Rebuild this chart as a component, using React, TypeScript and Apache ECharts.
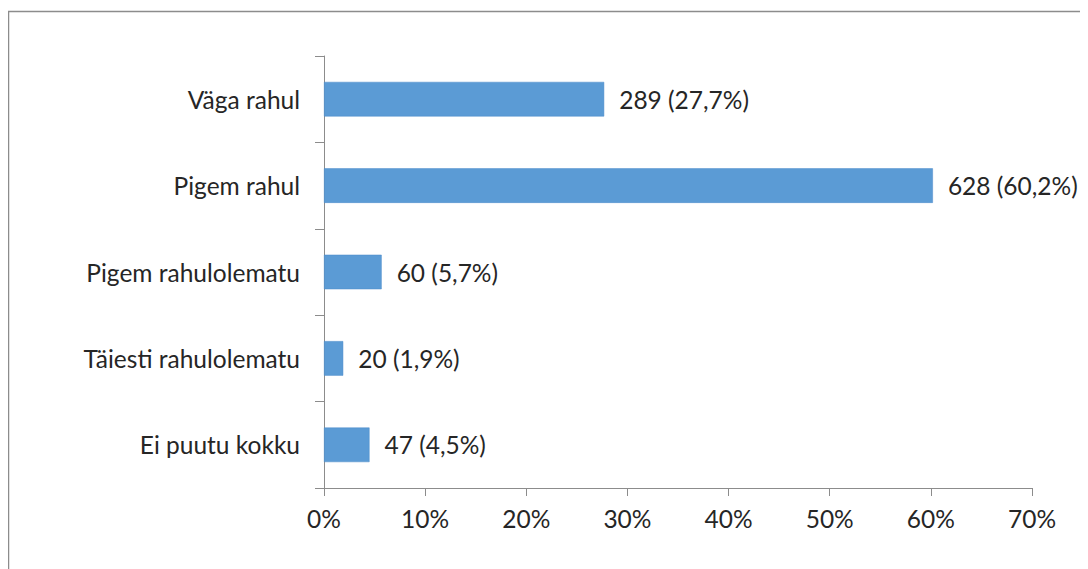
import React, { useEffect, useRef } from "react";
import * as echarts from "echarts";

const categories = ["Väga rahul", "Pigem rahul", "Pigem rahulolematu", "Täiesti rahulolematu", "Ei puutu kokku"];
const counts = [289, 628, 60, 20, 47];
const percents = [27.7, 60.2, 5.7, 1.9, 4.5];
const xTicks = [0, 10, 20, 30, 40, 50, 60, 70];

export default function App() {
  const ref = useRef<HTMLDivElement>(null);
  useEffect(() => {
    if (!ref.current) return;
    const chart = echarts.init(ref.current, null, { renderer: "svg" });
    const font = "Lato, 'Open Sans', sans-serif";
    const fs = 24.5;
    chart.setOption({
      animation: false,
      textStyle: { fontFamily: font },
      graphic: [
        {
          type: "rect",
          shape: { x: 0.5, y: 3.5, width: 1200, height: 700 },
          style: { fill: "none", stroke: "#8c8c8c", lineWidth: 1.5 },
          silent: true,
        },
      ],
      grid: { left: 316, top: 48, width: 708, height: 432, containLabel: false },
      xAxis: {
        type: "value",
        min: xTicks[0],
        max: xTicks[xTicks.length - 1],
        interval: 10,
        axisLine: { show: true, lineStyle: { color: "#8c8c8c", width: 1 } },
        axisTick: { show: true, length: 8, lineStyle: { color: "#8c8c8c" } },
        splitLine: { show: false },
        axisLabel: { formatter: "{value}%", color: "#262626", fontSize: fs, margin: 18, fontFamily: font },
      },
      yAxis: {
        type: "category",
        data: categories,
        inverse: true,
        axisLine: { show: true, lineStyle: { color: "#8c8c8c", width: 1 } },
        axisTick: { show: true, length: 9, lineStyle: { color: "#8c8c8c" } },
        axisLabel: { color: "#262626", fontSize: fs, margin: 24, fontFamily: font },
      },
      series: [
        {
          type: "bar",
          data: percents,
          barCategoryGap: "60%",
          itemStyle: { color: "#5B9BD5", borderColor: "#4a8acb", borderWidth: 0.5 },
          label: {
            show: true,
            position: "right",
            distance: 15,
            color: "#262626",
            fontSize: fs,
            fontFamily: font,
            formatter: (p: any) => `${counts[p.dataIndex]} (${String(percents[p.dataIndex]).replace(".", ",")}%)`,
          },
        },
      ],
    });
    return () => chart.dispose();
  }, []);
  return <div ref={ref} style={{ width: 1080, height: 561 }} />;
}
